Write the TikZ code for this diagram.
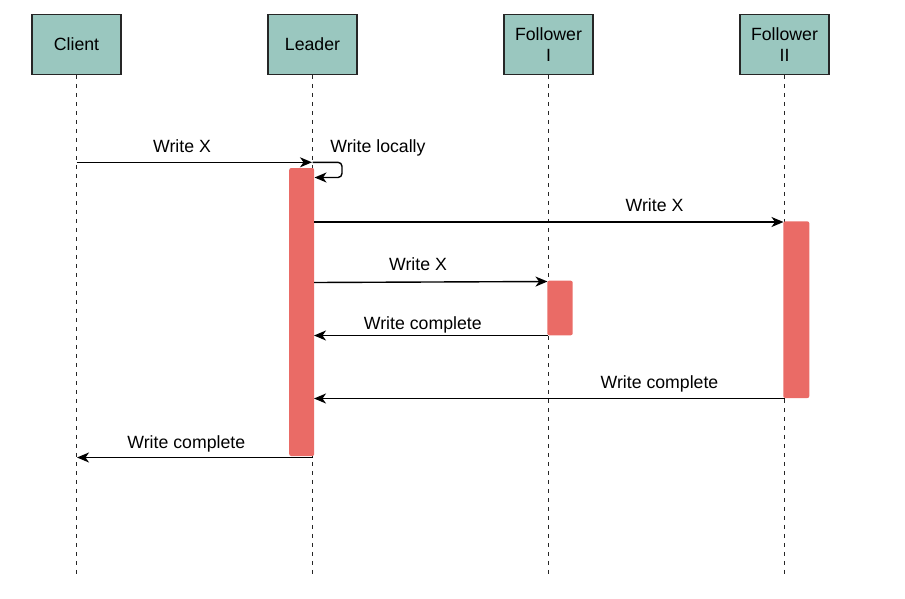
\documentclass[tikz,border=0pt]{standalone}
\usepackage{fontspec}
\setmainfont{Liberation Sans}
\usetikzlibrary{arrows.meta}
\definecolor{hdr}{HTML}{9AC7BF}
\definecolor{act}{HTML}{EA6B66}
\begin{document}
\begin{tikzpicture}[x=1pt,y=-1pt,
  actor/.style={draw=black!85,line width=1.3pt,fill=hdr,minimum width=89pt,minimum height=60pt,inner sep=0pt,align=center,font=\fontsize{17.7}{21}\selectfont},
  life/.style={draw=black!85,line width=1.3pt,dash pattern=on 4pt off 5pt},
  bar/.style={fill=act,draw=none,rounded corners=2pt,inner sep=0pt},
  msg/.style={draw=black,line width=1.4pt,-{Stealth[length=12pt,width=10pt,inset=3.5pt]}},
  lbl/.style={anchor=base,font=\fontsize{17.7}{20}\selectfont,inner sep=0pt}]
\useasboundingbox (0,0) rectangle (905,598);
% actors
\node[actor] (client) at (76.5,44.3) {Client};
\node[actor] (leader) at (312.5,44.3) {Leader};
\node[actor] (f1) at (548.5,44.3) {Follower\\I};
\node[actor] (f2) at (784.5,44.3) {Follower\\II};
% lifeline ends
\coordinate (cEnd) at (76.5,577);
\coordinate (lEnd) at (312.5,577);
\coordinate (f1End) at (548.5,577);
\coordinate (f2End) at (784.5,577);
\draw[life] (client.south) -- (cEnd);
\draw[life] (leader.south) -- (lEnd);
\draw[life] (f1.south) -- (f1End);
\draw[life] (f2.south) -- (f2End);
% activation bars
\node[bar,minimum width=25pt,minimum height=288pt] (lb) at (301.7,312) {};
\node[bar,minimum width=25.4pt,minimum height=54.6pt] (f1b) at (560,308) {};
\node[bar,minimum width=26pt,minimum height=176.7pt] (f2b) at (796.3,309.7) {};
% message end points
\coordinate (m1s) at (76.5,162.3);
\coordinate (m1e) at (312,162.3);
\coordinate (m2s) at (314,222);
\coordinate (m2e) at (783.5,222);
\coordinate (m3s) at (314,282.5);
\coordinate (m3e) at (547.5,281.5);
\coordinate (m4s) at (548,335.5);
\coordinate (m4e) at (314,335.5);
\coordinate (m5s) at (784.5,398.5);
\coordinate (m5e) at (314,398.5);
\coordinate (m6s) at (313,457.5);
\coordinate (m6e) at (77,457.5);
\coordinate (selfS) at (312.5,162.3);
\coordinate (selfE) at (314.5,177.5);
% messages
\draw[msg] (m1s) -- (m1e);
\draw[msg,rounded corners=4pt] (selfS) -- (342,162.3) -- (342,177.5) -- (selfE);
\draw[msg] (m2s) -- (m2e);
\draw[msg] (m3s) -- (m3e);
\draw[msg] (m4s) -- (m4e);
\draw[msg] (m5s) -- (m5e);
\draw[msg] (m6s) -- (m6e);
% labels
\node[lbl] (t1) at (182,152.7) {Write X};
\node[lbl] (t0) at (378,152.7) {Write locally};
\node[lbl] (t2) at (654.5,211.7) {Write X};
\node[lbl] (t3) at (418,270.7) {Write X};
\node[lbl] (t4) at (422.8,329) {Write complete};
\node[lbl] (t5) at (659.5,388.5) {Write complete};
\node[lbl] (t6) at (186.3,448.3) {Write complete};
\end{tikzpicture}
\end{document}
